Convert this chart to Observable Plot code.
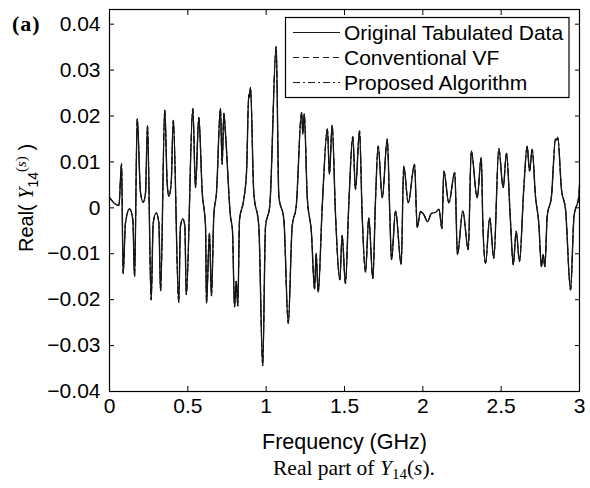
<!DOCTYPE html>
<html><head><meta charset="utf-8">
<script src="https://cdn.jsdelivr.net/npm/d3@7"></script>
<script src="https://cdn.jsdelivr.net/npm/@observablehq/plot@0.6"></script>
<style>html,body{margin:0;padding:0;background:#fff}#chart svg{display:block}</style>
</head><body><div id="chart"></div>
<script>
// Frequency (GHz) and Real(Y14(s))
const freqGHz = [
  0.000,0.027,0.060,0.077,0.087,0.102,0.128,0.149,0.160,0.177,
  0.198,0.215,0.230,0.2425,0.266,0.279,0.298,0.315,0.326,0.353,
  0.368,0.379,0.394,0.407,0.442,0.453,0.468,0.481,0.490,0.532,
  0.549,0.570,0.592,0.613,0.619,0.638,0.651,0.666,0.683,0.708,
  0.719,0.730,0.740,0.772,0.785,0.798,0.809,0.819,0.830,0.857,
  0.875,0.889,0.893,0.900,0.921,0.953,0.978,0.996,1.023,1.064,
  1.081,1.113,1.141,1.166,1.192,1.226,1.234,1.243,1.262,1.289,
  1.309,1.319,1.332,1.358,1.391,1.404,1.421,1.443,1.470,1.485,
  1.506,1.527,1.553,1.570,1.596,1.613,1.634,1.655,1.681,1.698,
  1.715,1.741,1.773,1.789,1.800,1.826,1.862,1.878,1.907,1.947,
  1.964,1.985,2.007,2.030,2.055,2.081,2.103,2.122,2.134,2.166,
  2.204,2.221,2.255,2.290,2.309,2.347,2.373,2.383,2.400,2.427,
  2.453,2.485,2.513,2.534,2.559,2.577,2.596,2.617,2.644,2.666,
  2.681,2.698,2.719,2.740,2.757,2.768,2.779,2.794,2.821,2.847,
  2.855,2.861,2.885,2.911,2.943,2.965,2.996,3.000
];
const realY14 = [
  0.0023,0.0011,0.0005,0.0096,-0.0143,-0.0033,-0.0002,-0.0026,-0.0150,0.0194,
  0.0033,0.0012,0.0033,0.0179,-0.0201,-0.0033,-0.0011,-0.0033,-0.0181,0.0213,
  0.0055,0.0025,0.0055,0.0191,-0.0206,-0.0040,-0.0024,-0.0040,-0.0189,0.0216,
  0.0044,0.0197,0.0033,-0.0040,-0.0208,-0.0055,-0.0192,-0.0015,0.0033,0.0217,
  0.0095,0.0206,0.0164,-0.0018,-0.0050,-0.0216,-0.0160,-0.0214,-0.0026,0.0018,
  0.0080,0.0247,0.0240,0.0262,0.0033,-0.0040,-0.0344,-0.0040,0.0004,0.0351,
  0.0025,-0.0026,-0.0252,-0.0040,0.0004,0.0208,0.0161,0.0205,0.0025,-0.0055,
  -0.0177,-0.0099,-0.0184,0.0004,0.0172,0.0073,0.0180,-0.0018,-0.0157,-0.0060,
  -0.0165,0.0004,0.0155,0.0040,0.0168,-0.0018,-0.0140,-0.0022,-0.0154,0.0018,
  0.0135,0.0022,0.0150,-0.0011,-0.0113,-0.0007,-0.0124,0.0091,0.0011,0.0095,
  -0.0043,-0.0008,-0.0015,-0.0030,-0.0012,-0.0010,-0.0003,-0.0045,0.0080,0.0011,
  0.0077,-0.0102,-0.0007,-0.0091,0.0124,0.0022,0.0110,-0.0033,-0.0121,-0.0022,
  -0.0110,0.0129,0.0044,0.0119,-0.0026,-0.0124,-0.0051,-0.0117,0.0040,0.0134,
  0.0080,0.0128,0.0025,-0.0033,-0.0128,-0.0102,-0.0128,-0.0018,0.0025,0.0150,
  0.0148,0.0154,0.0040,-0.0004,-0.0179,-0.0018,0.0025,0.0050
];
const seriesNames = ["Original Tabulated Data", "Conventional VF", "Proposed Algorithm"];
const seriesDash = [null, "6,4", "7,3,2,3"];
const xTicks = [0, 0.5, 1, 1.5, 2, 2.5, 3];
const xTickLabels = ["0", "0.5", "1", "1.5", "2", "2.5", "3"];
const yTicks = [-0.04, -0.03, -0.02, -0.01, 0, 0.01, 0.02, 0.03, 0.04];
const yTickLabels = ["\u22120.04", "\u22120.03", "\u22120.02", "\u22120.01", "0", "0.01", "0.02", "0.03", "0.04"];

const rows = freqGHz.map((f, i) => ({f, v: realY14[i]}));
const SANS = "'Liberation Sans', Arial, Helvetica, sans-serif";
const SERIF = "'Liberation Serif', 'Times New Roman', serif";
const findLabel = (ticks, labels) => d => {
  const i = ticks.findIndex(t => Math.abs(t - d) < 1e-9);
  return i < 0 ? "" : labels[i];
};

const lineMarks = seriesNames.map((name, k) =>
  Plot.line(rows, {x: "f", y: "v", stroke: "#151515", strokeWidth: k === 0 ? 1.4 : 1.0,
    strokeDasharray: seriesDash[k], curve: "monotone-x"}));

const chart = Plot.plot({
  width: 590, height: 488,
  marginLeft: 109, marginRight: 11, marginTop: 9, marginBottom: 97,
  style: {fontFamily: SANS, fontSize: "21px", color: "#000", background: "#fff"},
  x: {domain: [0, 3]},
  y: {domain: [-0.04, 0.0432]},
  marks: [
    ...lineMarks,
    Plot.frame({stroke: "#000", strokeWidth: 1.2}),
    Plot.axisX({ticks: xTicks, tickSize: -5, tickPadding: 12, tickFormat: findLabel(xTicks, xTickLabels), label: null}),
    Plot.axisX({anchor: "top", ticks: xTicks, tickSize: -5, tickFormat: () => "", label: null}),
    Plot.axisY({ticks: yTicks, tickSize: -5, tickPadding: 14, tickFormat: findLabel(yTicks, yTickLabels), label: null}),
    Plot.axisY({anchor: "right", ticks: yTicks, tickSize: -5, tickFormat: () => "", label: null}),
    Plot.text(["Frequency (GHz)"], {frameAnchor: "bottom", dy: 57, lineAnchor: "bottom", fontSize: 21.5})
  ]
});
document.getElementById("chart").appendChild(chart);

const svg = d3.select(chart);
// y label: Real( Y14(s) )
const yl = svg.append("text")
  .attr("transform", "translate(33,198) rotate(-90)")
  .attr("text-anchor", "middle").attr("font-family", SANS).attr("font-size", 20).attr("fill", "#000");
yl.append("tspan").text("Real( ");
yl.append("tspan").attr("font-family", SERIF).attr("font-style", "italic").attr("font-size", 20).text("Y");
yl.append("tspan").attr("font-size", 14).attr("dy", 5).text("14");
yl.append("tspan").attr("font-family", SERIF).attr("font-size", 15).attr("dy", -12).text("(");
yl.append("tspan").attr("font-family", SERIF).attr("font-style", "italic").attr("font-size", 15).text("s");
yl.append("tspan").attr("font-family", SERIF).attr("font-size", 15).text(")");
yl.append("tspan").attr("dy", 7).text(" )");

// panel label
svg.append("text").attr("x", 12).attr("y", 31).attr("text-anchor", "start")
  .attr("font-family", SERIF).attr("font-weight", "bold")
  .attr("font-size", 22).attr("letter-spacing", 1).attr("fill", "#000").text("(a)");

// caption
const cap = svg.append("text").attr("x", 354).attr("y", 475).attr("text-anchor", "middle")
  .attr("font-family", SERIF).attr("font-size", 21.5).attr("fill", "#000");
cap.append("tspan").text("Real part of ");
cap.append("tspan").attr("font-style", "italic").text("Y");
cap.append("tspan").attr("font-size", 15).attr("dy", 4).text("14");
cap.append("tspan").attr("dy", -4).text("(");
cap.append("tspan").attr("font-style", "italic").text("s");
cap.append("tspan").text(").");

// legend
const lg = svg.append("g");
lg.append("rect").attr("x", 285.5).attr("y", 17.5).attr("width", 283.5).attr("height", 80)
  .attr("fill", "#fff").attr("stroke", "#000").attr("stroke-width", 1.2);
seriesNames.forEach((name, k) => {
  const yy = 32.5 + k * 25;
  lg.append("line").attr("x1", 293).attr("x2", 340).attr("y1", yy).attr("y2", yy)
    .attr("stroke", "#1a1a1a").attr("stroke-width", 1)
    .attr("stroke-dasharray", seriesDash[k]);
  lg.append("text").attr("x", 344).attr("y", yy + 7.5).attr("text-anchor", "start")
    .attr("font-family", SANS).attr("font-size", 21)
    .attr("fill", "#000").text(name);
});
</script>
</body></html>
